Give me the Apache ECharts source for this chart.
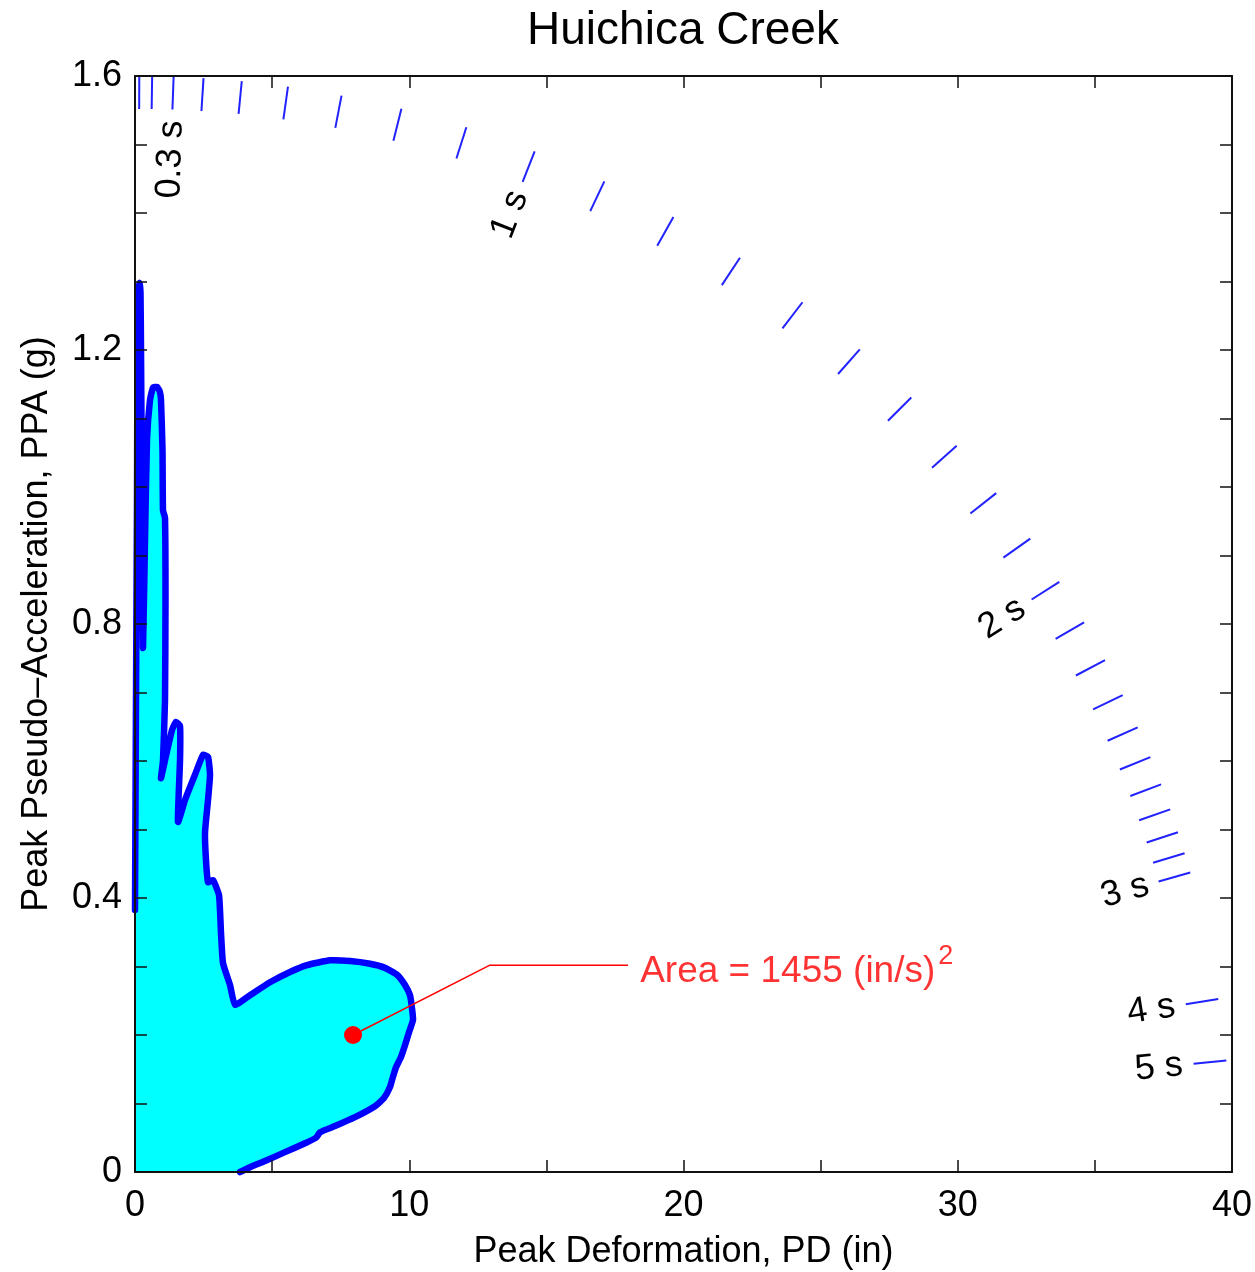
<!DOCTYPE html>
<html><head><meta charset="utf-8">
<script src="https://cdn.jsdelivr.net/npm/echarts@6/dist/echarts.min.js"></script>
<style>html,body{margin:0;padding:0;background:#fff}#c{width:1255px;height:1272px}</style>
</head><body><div id="c"></div>
<script>
// ---- data ----
const chartTitle = 'Huichica Creek';
const xName = 'Peak Deformation, PD (in)';
const yName = 'Peak Pseudo\u2013Acceleration, PPA (g)';
const xMin = 0, xMax = 40, xTickStep = 5, xLabelStep = 10;
const yMin = 0, yMax = 1.6, yTickStep = 0.1, yLabelStep = 0.4;

// response trajectory: peak deformation (in) vs peak pseudo-acceleration (g)
const pd = [0, 0.036, 0.073, 0.091, 0.13, 0.164, 0.2, 0.219, 0.255, 0.292, 0.365, 0.438, 0.547, 0.656, 0.802, 0.90, 0.948, 1.003, 1.021, 1.094, 1.112, 1.094, 1.021, 0.948,
  1.094, 1.349, 1.495, 1.641, 1.641, 1.568, 1.823, 2.188, 2.48, 2.662, 2.735, 2.662, 2.552, 2.589, 2.662, 2.844, 3.063, 3.136, 3.209, 3.464, 3.646,
  4.193, 4.923, 5.652, 6.272, 7.110, 7.840, 8.569, 9.116, 9.553, 9.845, 10.027, 10.1, 10.137, 9.991, 9.845, 9.699, 9.517, 9.407, 9.298, 9.079, 8.751,
  8.022, 7.293, 6.746, 6.6, 6.199, 5.469, 4.740, 4.193, 3.829];
const ppa = [0.3825, 0.689, 0.981, 1.2, 1.285, 1.298, 1.285, 1.2, 0.981, 0.765, 0.923, 1.069, 1.127, 1.145, 1.146, 1.14, 1.127, 1.054, 0.966, 0.955, 0.835, 0.689, 0.601, 0.575,
  0.601, 0.645, 0.657, 0.651, 0.601, 0.511, 0.543, 0.58, 0.609, 0.606, 0.58, 0.543, 0.495, 0.455, 0.423, 0.426, 0.404, 0.349, 0.305, 0.273, 0.244,
  0.258, 0.277, 0.292, 0.302, 0.309, 0.308, 0.304, 0.298, 0.288, 0.273, 0.258, 0.239, 0.222, 0.204, 0.185, 0.168, 0.153, 0.139, 0.124, 0.108, 0.096,
  0.080, 0.067, 0.058, 0.050, 0.042, 0.029, 0.016, 0.007, 0];

// period tick marks (s) and labelled periods
const periods = [0.1,0.2,0.3,0.4,0.5,0.6,0.7,0.8,0.9,1.0,1.1,1.2,1.3,1.4,1.5,1.6,1.7,1.8,1.9,2.0,2.1,2.2,2.3,2.4,2.5,2.6,2.7,2.8,2.9,3.0,4,5];
const labelledPeriods = [0.3, 1, 2, 3, 4, 5];
const periodLabels = ['0.3 s', '1 s', '2 s', '3 s', '4 s', '5 s'];
const gravity = 386.09; // in/s^2

// area annotation
const areaPoint = [7.95, 0.2];
const leaderLine = [[7.95, 0.2], [12.94, 0.302], [17.98, 0.302]];
const areaLabelAnchor = [18.42, 0.292];
const areaText = 'Area = 1455 (in/s)';
const areaSup = '2';

// ---- chart ----
const FONT = 'Liberation Sans, Arial, Helvetica, sans-serif';
const near = (v, s) => Math.abs(v / s - Math.round(v / s)) < 1e-6;

function rayPoint(T, r) {
  const k = Math.pow(2 * Math.PI / T, 2) / gravity; // g per inch
  const s = k * xMax / yMax;
  const u = 1 / Math.sqrt(1 + s * s);
  return [r * u * xMax, r * s * u * yMax];
}

const axisCommon = {
  axisLine: { show: true, onZero: false, lineStyle: { color: '#111', width: 2 } },
  axisTick: { show: true, inside: true, length: 12, lineStyle: { color: '#111', width: 1.5 } },
  splitLine: { show: false },
  z: 5
};

const chart = echarts.init(document.getElementById('c'), null, { renderer: 'canvas' });
chart.setOption({
  animation: false,
  backgroundColor: '#fff',
  title: { text: chartTitle, left: 678, textAlign: 'center', top: 3, textStyle: { fontFamily: FONT, fontSize: 46, fontWeight: 'normal', color: '#000' } },
  grid: { left: 135, right: 23, top: 76, bottom: 100, containLabel: false, outerBoundsMode: 'none' },
  xAxis: [
    Object.assign({ type: 'value', position: 'bottom', min: xMin, max: xMax, interval: xTickStep,
      name: xName, nameLocation: 'middle', nameGap: 62,
      nameTextStyle: { fontFamily: FONT, fontSize: 36, color: '#000' },
      axisLabel: { margin: 16, fontFamily: FONT, fontSize: 36, color: '#000', formatter: v => near(v, xLabelStep) ? String(Math.round(v)) : '' } }, axisCommon),
    Object.assign({ type: 'value', position: 'top', min: xMin, max: xMax, interval: xTickStep, axisLabel: { show: false } }, axisCommon)
  ],
  yAxis: [
    Object.assign({ type: 'value', position: 'left', min: yMin, max: yMax, interval: yTickStep,
      name: yName, nameLocation: 'middle', nameGap: 80,
      nameTextStyle: { fontFamily: FONT, fontSize: 36, color: '#000' },
      axisLabel: { margin: 13, fontFamily: FONT, fontSize: 36, color: '#000', formatter: v => near(v, yLabelStep) ? String(+v.toFixed(1)) : '' } }, axisCommon),
    Object.assign({ type: 'value', position: 'right', min: yMin, max: yMax, interval: yTickStep, axisLabel: { show: false } }, axisCommon)
  ],
  series: [
    {
      type: 'custom', z: 2, silent: true,
      data: [[0, 0]],
      renderItem: function (params, api) {
        const pts = pd.map((x, i) => api.coord([x, ppa[i]]));
        const poly = [api.coord([0, 0])].concat(pts);
        return { type: 'group', children: [
          { type: 'polygon', shape: { points: poly }, style: { fill: '#00ffff', stroke: null } },
          { type: 'polyline', shape: { points: pts, smooth: 0.15 }, style: { fill: null, stroke: '#0000ff', lineWidth: 6.5, lineJoin: 'round', lineCap: 'round' } }
        ] };
      }
    },
    {
      type: 'custom', z: 3, silent: true,
      data: periods.map(t => [t, 0]),
      renderItem: function (params, api) {
        const T = periods[params.dataIndex];
        const a = api.coord(rayPoint(T, 0.97));
        const b = api.coord(rayPoint(T, 1.0));
        return { type: 'line', shape: { x1: a[0], y1: a[1], x2: b[0], y2: b[1] }, style: { stroke: '#2222ff', lineWidth: 2 } };
      }
    },
    {
      type: 'custom', z: 3, silent: true,
      data: labelledPeriods.map(t => [t, 0]),
      renderItem: function (params, api) {
        const T = labelledPeriods[params.dataIndex];
        const o = api.coord([0, 0]);
        const p = api.coord(rayPoint(T, 0.96));
        const ang = Math.atan2(o[1] - p[1], p[0] - o[0]);
        return { type: 'text', x: p[0], y: p[1], rotation: ang,
          style: { text: periodLabels[params.dataIndex], fill: '#000', fontSize: 36, fontFamily: FONT, align: 'right', verticalAlign: 'middle' } };
      }
    },
    {
      type: 'line', z: 4, silent: true, data: leaderLine, symbol: 'none',
      lineStyle: { color: '#ff0000', width: 1.5 }
    },
    {
      type: 'scatter', z: 4, silent: true, data: [areaPoint], symbol: 'circle', symbolSize: 18,
      itemStyle: { color: '#ff0000', opacity: 1 }
    },
    {
      type: 'scatter', z: 4, silent: true, data: [areaLabelAnchor], symbolSize: 0,
      label: { show: true, position: 'right', distance: 0,
        formatter: '{a|' + areaText + '}{b|' + areaSup + '}',
        rich: {
          a: { fontFamily: FONT, fontSize: 37, color: '#ff0000', lineHeight: 58, verticalAlign: 'middle' },
          b: { fontFamily: FONT, fontSize: 27, color: '#ff0000', lineHeight: 27, verticalAlign: 'top', padding: [0, 0, 0, 3] }
        } }
    }
  ]
});
</script></body></html>
